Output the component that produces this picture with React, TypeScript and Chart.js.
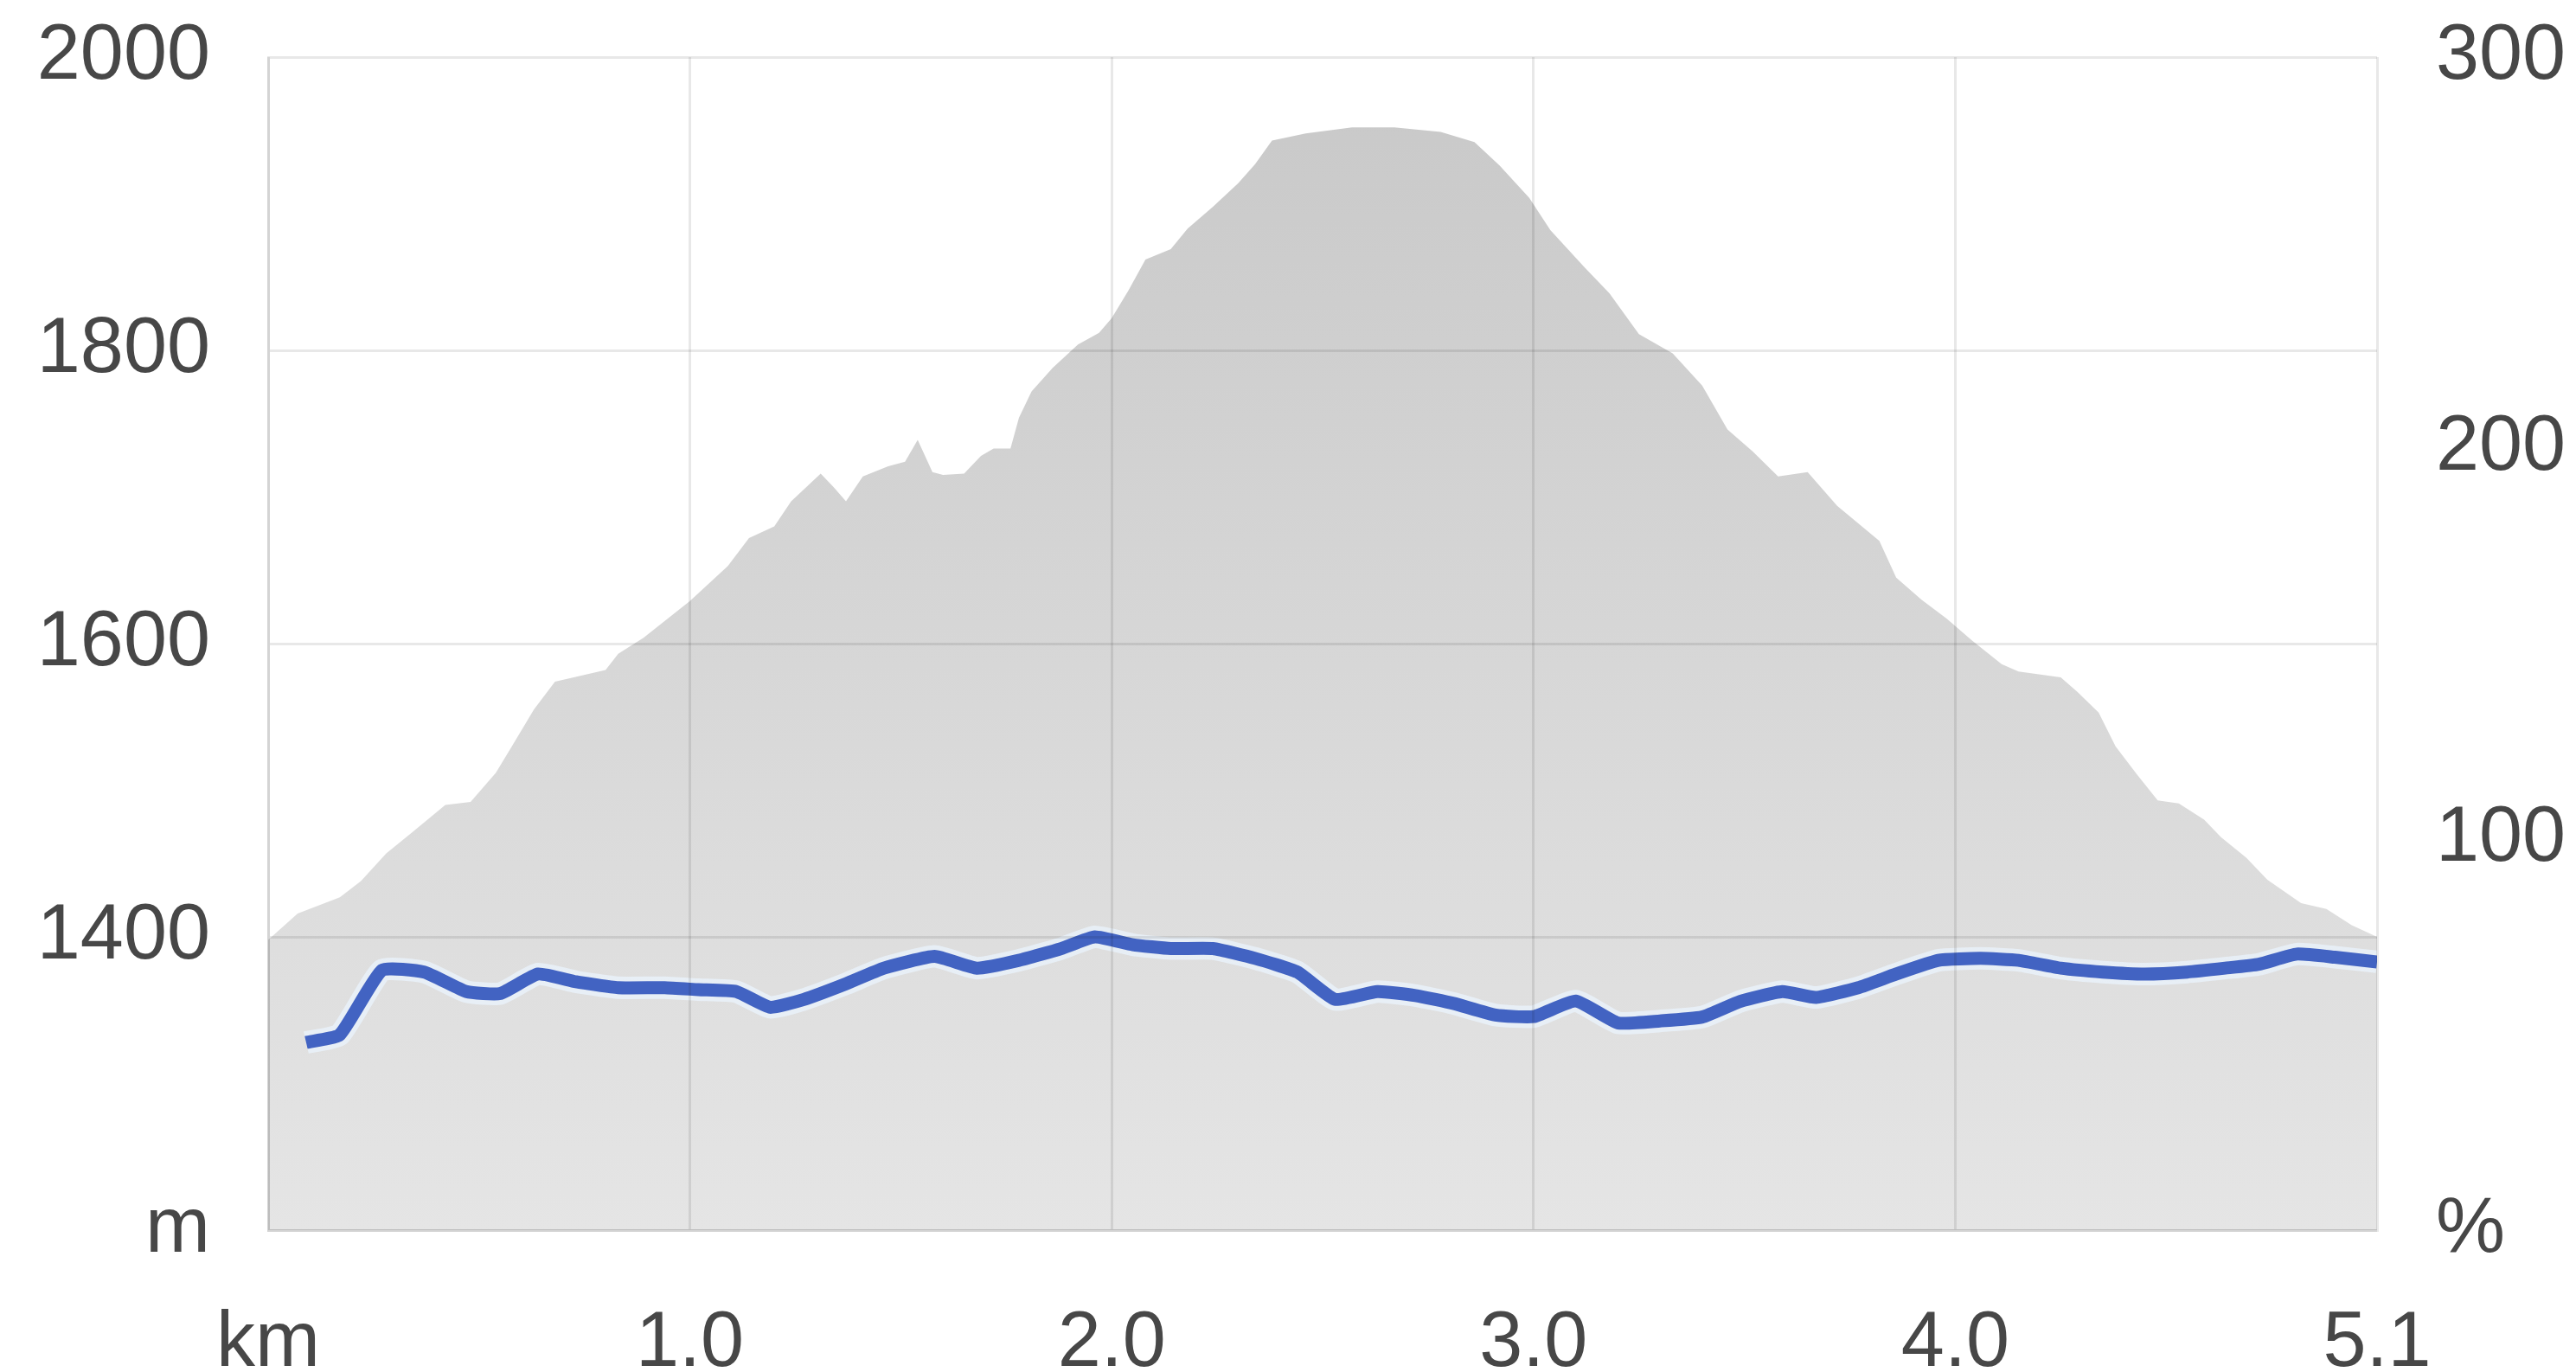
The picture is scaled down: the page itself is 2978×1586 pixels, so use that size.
import React, { useEffect, useRef } from 'react';
import { Chart, registerables } from 'chart.js';

Chart.register(...registerables);

// Elevation profile (distance km, elevation m)
const elevKm = [0.00,0.07,0.17,0.22,0.28,0.34,0.42,0.48,0.54,0.58,0.63,0.68,0.80,0.83,0.89,1.00,1.09,1.14,1.20,1.24,1.31,1.34,1.37,1.41,1.47,1.51,1.54,1.575,1.60,1.65,1.69,1.72,1.76,1.78,1.81,1.86,1.92,1.97,2.00,2.04,2.08,2.14,2.18,2.24,2.30,2.34,2.38,2.46,2.57,2.67,2.78,2.86,2.92,2.99,3.04,3.12,3.18,3.25,3.33,3.40,3.46,3.52,3.58,3.65,3.72,3.82,3.86,3.92,3.98,4.04,4.11,4.15,4.25,4.29,4.34,4.38,4.43,4.48,4.53,4.59,4.63,4.69,4.74,4.82,4.88,4.94,5.00];
const elevM = [1398,1416,1427,1438,1457,1471,1490,1492,1512,1531,1555,1574,1582,1593,1604,1629,1653,1672,1680,1697,1716,1707,1697,1714,1721,1724,1739,1717,1715,1716,1728,1733,1733,1754,1772,1788,1804,1812,1822,1841,1862,1869,1883,1898,1914,1927,1943,1948,1952,1952,1949,1942,1926,1904,1882,1857,1839,1811,1798,1776,1746,1731,1714,1717,1694,1670,1645,1630,1617,1602,1586,1581,1577,1567,1553,1530,1511,1493,1491,1480,1468,1454,1439,1423,1419,1408,1400];

// Percent series (distance km, %)
const pctKm = [0.09,0.17,0.27,0.37,0.47,0.55,0.64,0.73,0.83,0.94,1.02,1.11,1.19,1.27,1.37,1.46,1.58,1.68,1.78,1.88,1.96,2.05,2.14,2.24,2.34,2.44,2.53,2.63,2.72,2.81,2.91,3.00,3.10,3.20,3.30,3.40,3.49,3.59,3.67,3.77,3.86,3.96,4.06,4.15,4.25,4.35,4.45,4.55,4.64,4.72,4.81,4.90,5.00];
const pctVal = [48,50,66.5,66,61,60.5,65.5,63.5,62,62,61.5,61,57,59,63,67,70,67,69,72,75,73,72,72,69.5,66,59,61,60,58,55,54.6,58.6,53,53.5,54.5,58.5,61,59.5,62,65.5,69,69.5,69,67,66,65.5,66,67,68,70.6,69.8,68.6];

// Tick labels
const xTickValues = [0, 1, 2, 3, 4, 5];
const xTickLabels = ['km', '1.0', '2.0', '3.0', '4.0', '5.1'];
const leftTickValues = [1200, 1400, 1600, 1800, 2000];
const leftTickLabels = ['m', '1400', '1600', '1800', '2000'];
const rightTickValues = [0, 100, 200, 300];
const rightTickLabels = ['%', '100', '200', '300'];

export default function App() {
  const canvasRef = useRef<HTMLCanvasElement | null>(null);

  useEffect(() => {
    if (!canvasRef.current) return;
    const font = { family: '"Liberation Sans", Arial, Helvetica, sans-serif', size: 90 };
    const labelColor = '#474747';
    const gridColor = 'rgba(0,0,0,0.09)';

    const elevData = elevKm.map((x, i) => ({ x, y: elevM[i] }));
    const pctData = pctKm.map((x, i) => ({ x, y: pctVal[i] }));

    const chart = new Chart(canvasRef.current, {
      type: 'line',
      data: {
        datasets: [
          {
            label: 'pct',
            data: pctData,
            yAxisID: 'y1',
            borderColor: '#4263c2',
            borderWidth: 15,
            pointRadius: 0,
            tension: 0.15,
            fill: false,
            order: 1,
          } as any,
          {
            label: 'pct-halo',
            data: pctData,
            yAxisID: 'y1',
            borderColor: 'rgba(235,245,255,0.7)',
            borderWidth: 26,
            pointRadius: 0,
            tension: 0.15,
            fill: false,
            order: 2,
          } as any,
          {
            label: 'elevation',
            data: elevData,
            yAxisID: 'y',
            borderWidth: 0,
            borderColor: 'rgba(0,0,0,0)',
            pointRadius: 0,
            tension: 0,
            fill: 'start',
            order: 3,
            backgroundColor: (ctx: any) => {
              const c = ctx.chart;
              const area = c.chartArea;
              if (!area) return '#d5d5d5';
              const g = c.ctx.createLinearGradient(0, area.top, 0, area.bottom);
              g.addColorStop(0, '#c8c8c8');
              g.addColorStop(1, '#e5e5e5');
              return g;
            },
          } as any,
        ],
      },
      options: {
        animation: false,
        responsive: false,
        maintainAspectRatio: false,
        layout: { padding: { top: 66, left: 0, right: 0, bottom: 0 } },
        plugins: {
          legend: { display: false },
          tooltip: { enabled: false },
        },
        scales: {
          x: {
            type: 'linear',
            min: 0,
            max: 5,
            afterBuildTicks: (s: any) => {
              s.ticks = xTickValues.map((v) => ({ value: v }));
            },
            afterFit: (s: any) => {
              s.height = 164;
            },
            ticks: {
              callback: (_v: any, i: number) => xTickLabels[i],
              font,
              color: labelColor,
              padding: 78,
              maxRotation: 0,
              autoSkip: false,
            },
            grid: { color: gridColor, lineWidth: 3, drawTicks: false, z: 1 },
            border: { display: true, color: gridColor, width: 3, z: 1 },
          },
          y: {
            position: 'left',
            min: 1200,
            max: 2000,
            afterBuildTicks: (s: any) => {
              s.ticks = leftTickValues.map((v) => ({ value: v }));
            },
            afterFit: (s: any) => {
              s.width = 310;
              s.paddingTop = 0;
              s.paddingBottom = 0;
            },
            ticks: {
              callback: (_v: any, i: number) => leftTickLabels[i],
              font,
              color: labelColor,
              padding: 67,
            },
            grid: { color: gridColor, lineWidth: 3, drawTicks: false, z: 1 },
            border: { display: true, color: gridColor, width: 3, z: 1 },
          },
          y1: {
            position: 'right',
            min: 0,
            max: 300,
            afterBuildTicks: (s: any) => {
              s.ticks = rightTickValues.map((v) => ({ value: v }));
            },
            afterFit: (s: any) => {
              s.width = 230;
              s.paddingTop = 0;
              s.paddingBottom = 0;
            },
            ticks: {
              callback: (_v: any, i: number) => rightTickLabels[i],
              font,
              color: labelColor,
              padding: 68,
            },
            grid: { display: false, drawTicks: false },
            border: { display: false },
          },
        },
      } as any,
    });

    return () => {
      chart.destroy();
    };
  }, []);

  return (
    <div style={{ position: 'absolute', left: 0, top: 0, width: 2978, height: 1586, background: '#ffffff' }}>
      <canvas ref={canvasRef} width={2978} height={1586} style={{ display: 'block', width: 2978, height: 1586 }} />
    </div>
  );
}
